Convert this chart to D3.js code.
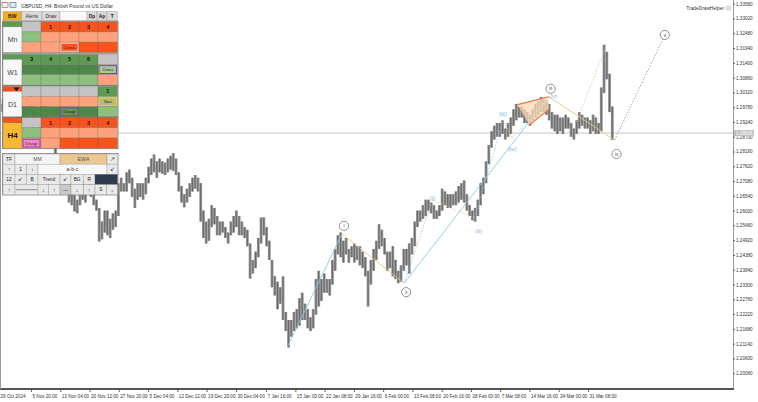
<!DOCTYPE html>
<html><head><meta charset="utf-8">
<script src="https://cdn.jsdelivr.net/npm/d3@7"></script>
<style>
body{margin:0;background:#fff}
svg{display:block}
text{font-family:"Liberation Sans",Arial,sans-serif}
</style>
</head><body>
<svg id="c" width="758" height="402"></svg>
<script>
// ---------------- DATA ----------------
// GBPUSD H4, summarised as half-day sessions (00-08 / 12-20), 29 Oct 2024 .. 4 Apr 2025
const sessionHigh = [
 1.2990,1.3010, 1.3040,1.3035, 1.2985,1.2920, 1.2960,1.2960, 1.2990,1.2980,
 1.2995,1.3050, 1.3010,1.2890, 1.2920,1.2990, 1.2990,1.2960, 1.2920,1.2890,
 1.2870,1.2800, 1.2770,1.2760, 1.2730,1.2700, 1.2680,1.2660, 1.2640,1.2690,
 1.2710,1.2690, 1.2730,1.2700, 1.2680,1.2640, 1.2610,1.2560, 1.2600,1.2600,
 1.2570,1.2590, 1.2600,1.2700, 1.2720,1.2700, 1.2740,1.2750, 1.2720,1.2680,
 1.2700,1.2700, 1.2700,1.2720, 1.2760,1.2790, 1.2805,1.2780, 1.2790,1.2780,
 1.2775,1.2790, 1.2800,1.2810, 1.2790,1.2740, 1.2690,1.2660, 1.2680,1.2700,
 1.2720,1.2730, 1.2720,1.2700, 1.2600,1.2560, 1.2570,1.2620, 1.2610,1.2580,
 1.2560,1.2560, 1.2540,1.2520, 1.2560,1.2580, 1.2600,1.2580, 1.2560,1.2540,
 1.2530,1.2480, 1.2420,1.2450, 1.2500,1.2575, 1.2575,1.2540, 1.2490,1.2420,
 1.2360,1.2340, 1.2320,1.2360, 1.2230,1.2200, 1.2200,1.2230, 1.2240,1.2280,
 1.2300,1.2260, 1.2240,1.2210, 1.2240,1.2350, 1.2380,1.2350, 1.2370,1.2350,
 1.2350,1.2420, 1.2460,1.2510, 1.2520,1.2490, 1.2500,1.2460, 1.2470,1.2480,
 1.2470,1.2470, 1.2450,1.2430, 1.2380,1.2420, 1.2460,1.2490, 1.2550,1.2530,
 1.2500,1.2450, 1.2450,1.2470, 1.2420,1.2380, 1.2400,1.2460, 1.2460,1.2480,
 1.2500,1.2560, 1.2600,1.2600, 1.2620,1.2640, 1.2640,1.2630, 1.2620,1.2600,
 1.2620,1.2680, 1.2670,1.2660, 1.2660,1.2660, 1.2670,1.2690, 1.2700,1.2710,
 1.2660,1.2620, 1.2600,1.2610, 1.2640,1.2700, 1.2720,1.2780, 1.2840,1.2890,
 1.2910,1.2920, 1.2920,1.2930, 1.2900,1.2920, 1.2940,1.2970, 1.2990,1.2980,
 1.2980,1.2970, 1.2960,1.2950, 1.2970,1.2990, 1.3000,1.3015, 1.3010,1.3000,
 1.2990,1.2960, 1.2950,1.2950, 1.2940,1.2940, 1.2950,1.2940, 1.2920,1.2900,
 1.2930,1.2960, 1.2950,1.2940, 1.2940,1.2930, 1.2950,1.2940, 1.2920,1.3050,
 1.3206,1.3180, 1.3100,1.2980
];
const sessionLow = [
 1.2960,1.2965, 1.2995,1.2975, 1.2880,1.2845, 1.2900,1.2870, 1.2930,1.2920,
 1.2950,1.2980, 1.2835,1.2840, 1.2880,1.2900, 1.2940,1.2910, 1.2870,1.2860,
 1.2780,1.2740, 1.2710,1.2680, 1.2670,1.2630, 1.2620,1.2597, 1.2590,1.2620,
 1.2640,1.2630, 1.2670,1.2650, 1.2620,1.2600, 1.2487,1.2495, 1.2520,1.2510,
 1.2500,1.2530, 1.2540,1.2580, 1.2670,1.2670, 1.2670,1.2700, 1.2650,1.2610,
 1.2640,1.2650, 1.2640,1.2660, 1.2700,1.2730, 1.2740,1.2720, 1.2740,1.2735,
 1.2730,1.2740, 1.2750,1.2745, 1.2730,1.2670, 1.2630,1.2612, 1.2630,1.2650,
 1.2670,1.2680, 1.2670,1.2560, 1.2500,1.2480, 1.2490,1.2540, 1.2550,1.2510,
 1.2510,1.2520, 1.2500,1.2480, 1.2510,1.2520, 1.2540,1.2510, 1.2510,1.2500,
 1.2470,1.2352, 1.2370,1.2390, 1.2430,1.2480, 1.2510,1.2470, 1.2420,1.2320,
 1.2290,1.2240, 1.2260,1.2200, 1.2160,1.2100, 1.2140,1.2160, 1.2170,1.2180,
 1.2200,1.2200, 1.2170,1.2160, 1.2170,1.2220, 1.2250,1.2270, 1.2300,1.2300,
 1.2290,1.2330, 1.2380,1.2440, 1.2430,1.2410, 1.2440,1.2410, 1.2430,1.2410,
 1.2420,1.2400, 1.2390,1.2360, 1.2250,1.2330, 1.2380,1.2420, 1.2460,1.2470,
 1.2440,1.2380, 1.2390,1.2360, 1.2350,1.2335, 1.2340,1.2380, 1.2400,1.2370,
 1.2440,1.2470, 1.2540,1.2560, 1.2570,1.2580, 1.2600,1.2590, 1.2570,1.2570,
 1.2580,1.2600, 1.2620,1.2610, 1.2610,1.2620, 1.2620,1.2630, 1.2640,1.2630,
 1.2600,1.2580, 1.2565,1.2560, 1.2580,1.2620, 1.2660,1.2700, 1.2770,1.2830,
 1.2860,1.2870, 1.2870,1.2880, 1.2860,1.2870, 1.2880,1.2910, 1.2930,1.2940,
 1.2940,1.2920, 1.2920,1.2910, 1.2930,1.2940, 1.2950,1.2960, 1.2960,1.2950,
 1.2930,1.2900, 1.2890,1.2880, 1.2890,1.2880, 1.2900,1.2900, 1.2870,1.2860,
 1.2880,1.2900, 1.2910,1.2900, 1.2900,1.2880, 1.2890,1.2880, 1.2880,1.2890,
 1.3030,1.3080, 1.2960,1.2858
];
const barsPerSession = 3;
const lastPrice = 1.28836;

const timeLabels = ["29 Oct 2024","5 Nov 20:00","13 Nov 04:00","20 Nov 12:00","27 Nov 20:00","5 Dec 04:00",
 "12 Dec 12:00","19 Dec 20:00","30 Dec 04:00","7 Jan 16:00","15 Jan 00:00","22 Jan 08:00","29 Jan 16:00",
 "6 Feb 00:00","13 Feb 08:00","20 Feb 16:00","28 Feb 00:00","7 Mar 08:00","14 Mar 16:00","24 Mar 00:00","31 Mar 08:00"];
const timeLabelBars = [0,35,67,99,131,163,195,227,259,292,324,356,388,420,452,484,516,548,580,612,644];

const priceTicks = [1.33560,1.33020,1.32480,1.31940,1.31400,1.30860,1.30320,1.29780,1.29240,1.28700,1.28160,
 1.27620,1.27080,1.26540,1.26000,1.25460,1.24920,1.24380,1.23840,1.23300,1.22760,1.22220,1.21680,1.21140,1.20600,1.20060];

// Elliott wave points: bar index, price
const majorWave = [
 {n:"",   bar:315, p:1.2100},
 {n:"i",  bar:375, p:1.2515},
 {n:"ii", bar:443, p:1.2335},
 {n:"iii",bar:601, p:1.3016},
 {n:"iv", bar:673, p:1.2858},
 {n:"v",  bar:728, p:1.3242}
];
const minorWave = [
 {n:"",     bar:443, p:1.2335},
 {n:"(i)",  bar:474, p:1.2639},
 {n:"(ii)", bar:520, p:1.2573},
 {n:"(iii)",bar:551, p:1.2931},
 {n:"(iv)", bar:561, p:1.2866},
 {n:"(v)",  bar:603, p:1.3015}
];
const diagUpper = [{bar:567,p:1.2987},{bar:601,p:1.3016}];
const diagLower = [{bar:580,p:1.2914},{bar:601,p:1.2969}];
const spikeGuide = [{bar:630,p:1.2914},{bar:665,p:1.3209}];

// ---------------- SCALES ----------------
const svg = d3.select("#c");
const plotRight = 733, plotBottom = 389;
const x = d3.scaleLinear().domain([0, 672]).range([-1, -1 + 672*0.9146]);
const y = d3.scaleLinear().domain([1.20060, 1.33560]).range([373.2, 3.7]);

svg.append("rect").attr("width",758).attr("height",402).attr("fill","#fff");

// current price line
svg.append("line").attr("x1",0).attr("x2",plotRight).attr("y1",y(lastPrice)).attr("y2",y(lastPrice))
  .attr("stroke","#c8c8c8").attr("stroke-width",1);

// price bars: session range block + darker centre bar
const sessions = sessionHigh.map((h,i)=>({i, h, l:sessionLow[i]}));
const pg = svg.append("g");
pg.selectAll("rect").data(sessions).join("rect")
  .attr("x", d => x(d.i*barsPerSession))
  .attr("width", d => x(barsPerSession) - x(0) + 0.1)
  .attr("y", d => y(d.h))
  .attr("height", d => Math.max(1, y(d.l) - y(d.h)))
  .attr("fill", "#959595");
pg.selectAll("line").data(sessions).join("line")
  .attr("x1", d => x(d.i*barsPerSession + barsPerSession/2)).attr("x2", d => x(d.i*barsPerSession + barsPerSession/2))
  .attr("y1", d => y(d.h)).attr("y2", d => y(d.l))
  .attr("stroke","#6a6a6a").attr("stroke-width",1.1);

// wave lines
const cyan = "#8cc8e0", tan = "#e6c487";
const L = (a,b,col,dash,w) => svg.append("line")
  .attr("x1",x(a.bar)).attr("y1",y(a.p)).attr("x2",x(b.bar)).attr("y2",y(b.p))
  .attr("stroke",col).attr("stroke-width",w||0.9).attr("stroke-dasharray",dash||null);

for (let k=0;k<minorWave.length-1;k++){
  L(minorWave[k], minorWave[k+1], k%2===0?cyan:tan, "1.5,1.5", 0.8);
}
L(spikeGuide[0], spikeGuide[1], tan, "1.5,1.5", 0.8);
L(majorWave[0],majorWave[1],cyan);
L(majorWave[1],majorWave[2],tan);
L(majorWave[2],majorWave[3],cyan);
L(majorWave[3],majorWave[4],tan);
L(majorWave[4],majorWave[5],"#8a8a8a","1.5,1.5",0.8);

// ending diagonal
svg.append("path")
  .attr("d", d3.line()([[x(diagUpper[0].bar),y(diagUpper[0].p)],[x(diagUpper[1].bar),y(diagUpper[1].p)],
                        [x(diagLower[1].bar),y(diagLower[1].p)],[x(diagLower[0].bar),y(diagLower[0].p)]])+"Z")
  .attr("fill","#fcd9b5").attr("fill-opacity",0.75);
[diagUpper, diagLower].forEach(s => L(s[0], s[1], "#e8743a", null, 1.2));

// major labels (circled)
const majorOffset = {i:-8, ii:9, iii:-8, iv:14, v:0};
majorWave.filter(d=>d.n).forEach(d=>{
  const cx = x(d.bar) + (d.n==="v"?0:2), cy = y(d.p) + majorOffset[d.n];
  svg.append("circle").attr("cx",cx).attr("cy",cy).attr("r",4.6)
    .attr("fill","#fff").attr("stroke","#777").attr("stroke-width",0.8);
  svg.append("text").attr("x",cx).attr("y",cy+1.6).attr("text-anchor","middle")
    .attr("font-size",4.6).attr("fill","#444").text(d.n);
});
const minorOffset = {"(i)":[0,-2],"(ii)":[4,13],"(iii)":[0,-6],"(iv)":[0,11],"(v)":[3,-1]};
minorWave.filter(d=>d.n).forEach(d=>{
  const o = minorOffset[d.n];
  svg.append("text").attr("x",x(d.bar)+o[0]).attr("y",y(d.p)+o[1]+2).attr("text-anchor","middle")
    .attr("font-size",6).attr("fill","#6fb3d6").text(d.n);
});

// frame
svg.append("line").attr("x1",plotRight+0.5).attr("x2",plotRight+0.5).attr("y1",0).attr("y2",plotBottom)
  .attr("stroke","#9a9a9a");
svg.append("line").attr("x1",0).attr("x2",plotRight+1).attr("y1",plotBottom).attr("y2",plotBottom)
  .attr("stroke","#555").attr("stroke-width",2);
svg.append("line").attr("x1",0.5).attr("x2",0.5).attr("y1",0).attr("y2",plotBottom).attr("stroke","#9a9a9a");

// axes
const yAxis = svg.append("g").attr("transform",`translate(${plotRight},0)`)
  .call(d3.axisRight(y).tickValues(priceTicks).tickSize(2).tickPadding(1).tickFormat(d3.format(".5f")));
yAxis.select(".domain").remove();
yAxis.selectAll("text").attr("font-size",4.6).attr("fill","#333").attr("font-family","Liberation Sans, Arial");
yAxis.selectAll("line").attr("stroke","#666");

const xAxis = svg.append("g").attr("transform",`translate(0,${plotBottom+1})`)
  .call(d3.axisBottom(x).tickValues(timeLabelBars).tickSize(2).tickPadding(3).tickFormat((d,i)=>timeLabels[i]));
xAxis.select(".domain").remove();
xAxis.selectAll("text").attr("font-size",4.6).attr("fill","#333").attr("text-anchor","start")
  .attr("dx",1).attr("font-family","Liberation Sans, Arial");
xAxis.selectAll("line").attr("stroke","#666");

// current price tag
svg.append("rect").attr("x",plotRight+1).attr("y",y(lastPrice)-3).attr("width",20).attr("height",6).attr("fill","#c0c0c0");
svg.append("text").attr("x",plotRight+3).attr("y",y(lastPrice)+1.7).attr("font-size",4.6).attr("fill","#fff")
  .text(d3.format(".5f")(lastPrice));

// title + helper text
svg.append("rect").attr("x",2).attr("y",2.5).attr("width",6).attr("height",5).attr("fill","#f2f2f2").attr("stroke","#c04040").attr("stroke-width",0.6);
svg.append("rect").attr("x",10).attr("y",2.5).attr("width",6).attr("height",5).attr("fill","#dfe8f5").attr("stroke","#4060a0").attr("stroke-width",0.6);
svg.append("text").attr("x",21).attr("y",7.5).attr("font-size",5).attr("fill","#333")
  .text("GBPUSD, H4:  British Pound vs US Dollar");
svg.append("text").attr("x",724).attr("y",10).attr("font-size",4.8).attr("fill","#333").attr("text-anchor","end")
  .text("TradeDrawHelper");
svg.append("rect").attr("x",726).attr("y",6).attr("width",5).attr("height",4).attr("fill","#e4e4e4").attr("stroke","#bbb").attr("stroke-width",0.4);

// ---------------- PANEL ----------------
const C = {or:"#f5541d", sal:"#fea27c", gr:"#c4c4c4", lg:"#93c284", g1:"#5f9a55", g2:"#4f8748", g3:"#8fbf80",
           gold:"#f0ac2c", h4:"#f6b934", btn:"#d9d9d9", wh:"#f7f7f7"};
const P = svg.append("g");
function cell(x0,y0,w,h,fill,txt,opt){
  opt = opt||{};
  P.append("rect").attr("x",x0).attr("y",y0).attr("width",w).attr("height",h)
    .attr("fill",fill).attr("stroke",opt.stroke||"rgba(90,90,90,0.45)").attr("stroke-width",opt.sw||0.5);
  if (txt) P.append("text").attr("x",x0+w/2).attr("y",y0+h/2+(opt.fs||5)*0.36)
    .attr("text-anchor","middle").attr("font-size",opt.fs||5).attr("font-weight",opt.bold?"bold":"normal")
    .attr("fill",opt.col||"#222").text(txt);
}
cell(3,11.5,18.5,9,C.gold,"BW",{fs:5,bold:true});
cell(21.5,11.5,20.5,9,C.btn,"Alerts",{fs:4.8,col:"#333"});
cell(42,11.5,18,9,C.btn,"Draw",{fs:4.8,col:"#333"});
cell(60,11.5,27,9,"#fafafa","");
cell(87,11.5,10,9,C.btn,"Dp",{fs:4.8,bold:true});
cell(97,11.5,10,9,C.btn,"Ap",{fs:4.8,bold:true});
cell(107,11.5,10.5,9,C.btn,"T",{fs:4.8,bold:true});

const colX = [22,41,60,79,98,117.5];
function block(y0, rows, labelTop, label, labelFill, labelOpt){
  const rh = 10.2;
  P.append("rect").attr("x",2.5).attr("y",y0-0.5).attr("width",115.5).attr("height",rh*3+1).attr("fill","none").attr("stroke","#777").attr("stroke-width",0.8);
  cell(3,y0,19,5.2,labelTop,"");
  cell(3,y0+5.2,19,rh*3-5.2,labelFill,label,labelOpt);
  rows.forEach((r,ri)=>r.forEach((c,ci)=>{
    const fill = c[0], t = c[1]||"", o = c[2]||{};
    cell(colX[ci], y0+ri*rh, colX[ci+1]-colX[ci], rh, fill, "", o);
    if (o.tag){
      P.append("rect").attr("x",colX[ci]+1).attr("y",y0+ri*rh+1.2).attr("width",colX[ci+1]-colX[ci]-2).attr("height",rh-2.4)
        .attr("fill",o.tagFill).attr("stroke",o.tag).attr("stroke-width",1);
      P.append("text").attr("x",(colX[ci]+colX[ci+1])/2).attr("y",y0+ri*rh+rh/2+1.5).attr("text-anchor","middle")
        .attr("font-size",4.3).attr("fill",o.col||"#222").text(t);
    } else if (t) {
      P.append("text").attr("x",(colX[ci]+colX[ci+1])/2).attr("y",y0+ri*rh+rh/2+2).attr("text-anchor","middle")
        .attr("font-size",5.6).attr("font-weight","bold").attr("fill","#111").text(t);
    }
  }));
}
block(21.7, [
  [[C.gr],[C.or,"1"],[C.or,"2"],[C.or,"3"],[C.or,"4"]],
  [[C.g3],[C.sal],[C.sal],[C.sal],[C.sal]],
  [[C.sal],[C.sal],[C.sal,"Cross",{tag:"#c8c8c8",tagFill:C.or,col:"#7a1000"}],[C.or],[C.or]]
], C.g1, "Mn", C.wh, {fs:7,col:"#444"});
block(54.3, [
  [[C.g1,"3"],[C.g1,"4"],[C.g1,"5"],[C.g1,"6"],[C.gr]],
  [[C.g2],[C.g2],[C.g2],[C.g2],[C.g3,"Cross",{tag:"#8a3fb8",tagFill:"#a8c89a",col:"#222"}]],
  [[C.g3],[C.g3],[C.g3],[C.g3],[C.sal]]
], C.g1, "W1", C.wh, {fs:7,col:"#444"});
block(86.3, [
  [[C.gr],[C.gr],[C.gr],[C.gr],[C.g1,"1"]],
  [[C.sal],[C.sal],[C.sal],[C.sal],[C.g3,"Sau",{tag:"#e8d040",tagFill:"#b8bc70",col:"#222"}]],
  [[C.g2],[C.g2],[C.g2,"Disagr",{tag:"#8a3fb8",tagFill:"#5f9a55",col:"#111"}],[C.g2],[C.g3]]
], C.or, "D1", C.wh, {fs:7,col:"#444"});
P.append("path").attr("d","M13.5,87.5 L19.5,87.5 L16.5,91.3 Z").attr("fill","#111");
block(117.6, [
  [[C.gr],[C.or,"1"],[C.or,"2"],[C.or,"3"],[C.or,"4"]],
  [[C.g3],[C.sal],[C.sal],[C.sal],[C.sal]],
  [[C.sal,"Disagr",{tag:"#8a3fb8",tagFill:"#ee88c8",col:"#7a1000"}],[C.sal],[C.or],[C.or],[C.or]]
], C.or, "H4", C.h4, {fs:8,bold:true,col:"#111"});

P.append("line").attr("x1",56).attr("x2",56).attr("y1",148.5).attr("y2",153.5).attr("stroke","#666").attr("stroke-width",0.8);

const lp = "#e9e9e9";
P.append("rect").attr("x",2.5).attr("y",153.5).attr("width",115.5).attr("height",41.5).attr("fill","none").attr("stroke","#888").attr("stroke-width",0.8);
const r1=154, r2=164.2, r3=174.4, r4=184.6, rh2=10.2;
cell(3,r1,12,rh2,lp,"TF",{fs:4.8});
cell(15,r1,45,rh2,"#f4f4f4","MM",{fs:5,col:"#555"});
cell(60,r1,47,rh2,"#ebc792","EWA",{fs:5.4,col:"#555"});
cell(107,r1,10.5,rh2,lp,"↗",{fs:5.5});
cell(3,r2,12,rh2,lp,"↑",{fs:5.5});
cell(15,r2,11.5,rh2,lp,"1",{fs:5});
cell(26.5,r2,11.5,rh2,lp,"↓",{fs:5.5});
cell(38,r2,69,rh2,"#f7f7f7","a-b-c",{fs:5.2,col:"#444"});
cell(107,r2,10.5,rh2,lp,"↙",{fs:5.5});
cell(3,r3,12,rh2,lp,"12",{fs:4.8});
cell(15,r3,11.5,rh2,lp,"↙",{fs:5.5});
cell(26.5,r3,11.5,rh2,lp,"B",{fs:5});
cell(38,r3,22,rh2,lp,"Trend",{fs:4.8});
cell(60,r3,11,rh2,lp,"↙",{fs:5.5});
cell(71,r3,12.3,rh2,lp,"BG",{fs:4.8});
cell(83.3,r3,11.7,rh2,lp,"R",{fs:4.8});
cell(95,r3,22.5,rh2,"#2c3a4b","");
cell(3,r4,12,rh2,lp,"↑",{fs:5.5});
cell(15,r4,23,rh2,lp,"");
P.append("line").attr("x1",16).attr("x2",37).attr("y1",r4+rh2/2).attr("y2",r4+rh2/2).attr("stroke","#666").attr("stroke-width",0.7);
cell(38,r4,10.5,rh2,lp,"↓",{fs:5.5});
cell(48.5,r4,11.5,rh2,lp,"↑",{fs:5.5});
cell(60,r4,11,rh2,"#c9c9c9","—",{fs:5});
cell(71,r4,12.3,rh2,lp,"↓",{fs:5.5});
cell(83.3,r4,11.7,rh2,lp,"↑",{fs:5.5});
cell(95,r4,11.7,rh2,lp,"S",{fs:4.8});
cell(106.7,r4,10.8,rh2,lp,"↓",{fs:5.5});
</script>
</body></html>
